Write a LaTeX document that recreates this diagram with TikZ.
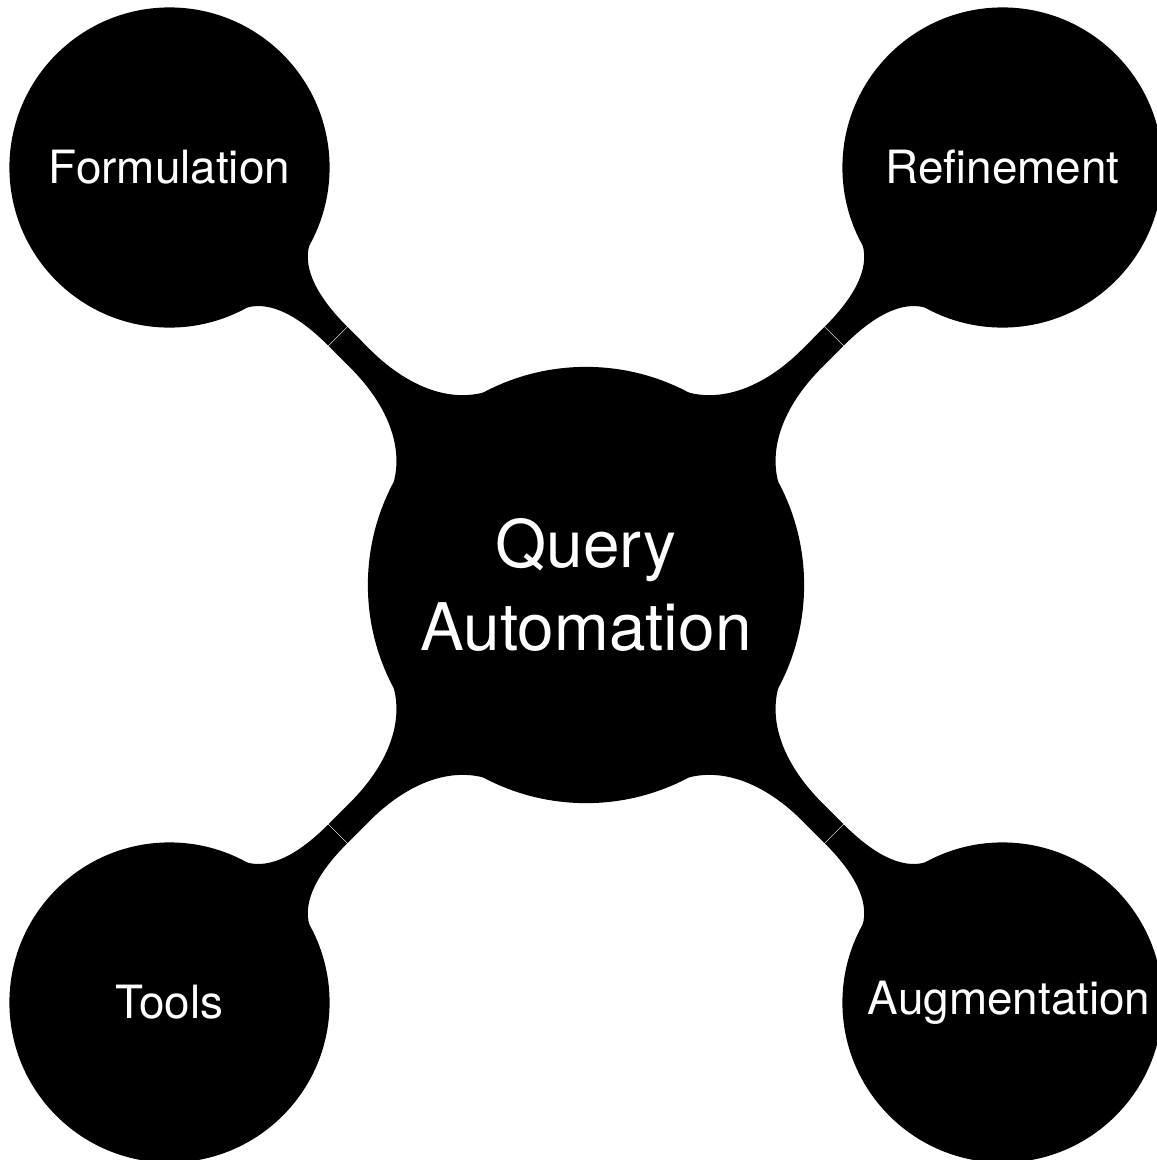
\documentclass[tikz,border=0pt]{standalone}
\usepackage{fontspec}
\setmainfont{TeX Gyre Heros}
\usetikzlibrary{calc,backgrounds}

\tikzset{
  concept/.style={circle, fill=black, text=white, inner sep=0pt, outer sep=0pt, align=center},
  rootconcept/.style={concept, minimum size=4.36cm, text width=3.8cm,
    font=\fontsize{18.68pt}{23.42pt}\selectfont},
  leafconcept/.style={concept, minimum size=3.2cm, text width=2.69cm,
    font=\fontsize{13.04pt}{15.6pt}\selectfont},
  barfill/.style={fill=black},
}

% Connection bar between two concepts: a fillet leaving the parent circle,
% a narrow neck, and a fillet flaring into the child circle. The two halves
% meet at a thin seam across the neck.
\newcommand\conceptbar[2]{%
  \path[barfill] let \p1=($(#2.center)-(#1.center)$), \n1={atan2(\y1,\x1)} in
    [shift={(#1.center)}, rotate=\n1]
    (208.5,-63.7) .. controls (228,-30) and (270,-13.4) .. (320,-13.4)
    -- (351,-13.4) -- (351,13.4) -- (320,13.4)
    .. controls (270,13.4) and (228,30) .. (208.5,63.7) -- cycle;
  \path[barfill] let \p1=($(#2.center)-(#1.center)$), \n1={atan2(\y1,\x1)} in
    [shift={(#1.center)}, rotate=\n1]
    (351.7,-13.4) -- (351.7,13.4) .. controls (392,13.4) and (424,22) .. (436.4,44.9)
    -- (436.4,-44.9) .. controls (424,-22) and (392,-13.4) .. (351.7,-13.4) -- cycle;
}

\begin{document}
\begin{tikzpicture}[x=0.01cm, y=-0.01cm]
  \useasboundingbox (0,0) rectangle (1156,1160);

  \node[rootconcept] (q) at (586,585) {Query\\Automation};
  \node[leafconcept] (f) at (169.5,167.5) {Formulation};
  \node[leafconcept] (r) at (1002.5,167.5) {Refinement};
  \node[leafconcept] (t) at (169.5,1002.5) {Tools};
  \node[leafconcept] (a) at (1002.5,1002.5) {Augmentation};

  \begin{pgfonlayer}{background}
    \conceptbar{q}{f}
    \conceptbar{q}{r}
    \conceptbar{q}{t}
    \conceptbar{q}{a}
  \end{pgfonlayer}
\end{tikzpicture}
\end{document}
